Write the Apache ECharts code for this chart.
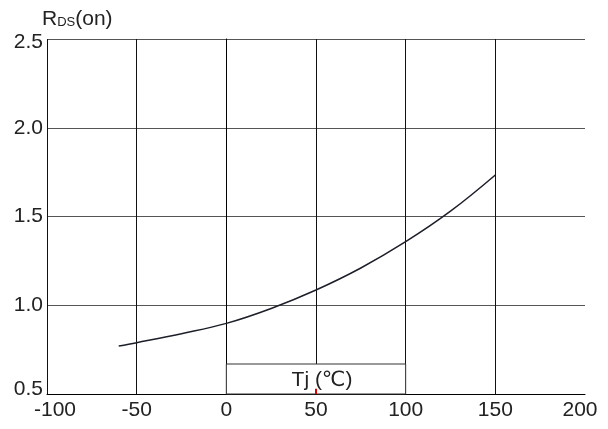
<!DOCTYPE html>
<html>
<head>
<meta charset="utf-8">
<script src="https://cdn.jsdelivr.net/npm/echarts@6/dist/echarts.min.js"></script>
<style>
html,body{margin:0;padding:0;background:#fff;}
#c{width:608px;height:429px;}
</style>
</head>
<body>
<div id="c"></div>
<script>
// Data
const tempC = [-60, -50, -25, 0, 25, 50, 75, 100, 125, 150];
const rdsOn = [0.77, 0.789, 0.84, 0.898, 0.982, 1.086, 1.21, 1.358, 1.53, 1.734];
const xTicks = [-100, -50, 0, 50, 100, 150, 200];
const yTicks = [0.5, 1.0, 1.5, 2.0, 2.5];
const axisLabelBox = { x0: 0, x1: 100, y0: 0.5, y1: 0.669, text: 'Tj (℃)' };
const redTick = { x: 50, y0: 0.5, y1: 0.53 };
const yName = { main: 'R', sub: 'DS', tail: '(on)' };

const font = '"Liberation Sans", Arial, "DejaVu Sans", sans-serif';
const chart = echarts.init(document.getElementById('c'), null, { renderer: 'canvas' });

chart.setOption({
  backgroundColor: '#fff',
  animation: false,
  grid: { left: 47, right: 23, top: 39, bottom: 35 },
  graphic: [{
    type: 'text',
    left: 42,
    top: 9,
    z: 10,
    style: {
      text: '{r|' + yName.main + '}{s|' + yName.sub + '}{r|' + yName.tail + '}',
      rich: {
        r: { fontSize: 21, fill: '#222', fontFamily: font },
        s: { fontSize: 13, fill: '#222', fontFamily: font, verticalAlign: 'bottom', padding: [0, 0, 1, 0] }
      }
    }
  }],
  xAxis: {
    type: 'value',
    min: xTicks[0],
    max: xTicks[xTicks.length - 1],
    interval: 50,
    axisLine: { show: true, lineStyle: { color: '#000', width: 1 } },
    axisTick: { show: false },
    axisLabel: {
      color: '#222', fontSize: 21, fontFamily: font, margin: 6,
      formatter: v => v === xTicks[0] ? '{mn|' + v + '}' : (v === xTicks[xTicks.length - 1] ? '{mx|' + v + '}' : String(v)),
      rich: {
        mn: { fontSize: 21, fontFamily: font, color: '#222', padding: [0, 0, 0, 16] },
        mx: { fontSize: 21, fontFamily: font, color: '#222', padding: [0, 10, 0, 0] }
      }
    },
    splitLine: { show: true, showMaxLine: false, lineStyle: { color: '#111', width: 1 } }
  },
  yAxis: {
    type: 'value',
    min: yTicks[0],
    max: yTicks[yTicks.length - 1],
    interval: 0.5,
    axisLine: { show: true, lineStyle: { color: '#000', width: 1 } },
    axisTick: { show: false },
    axisLabel: {
      color: '#222', fontSize: 21, fontFamily: font, margin: 4,
      formatter: v => v === yTicks[0] ? '{mn|' + v.toFixed(1) + '}' : (v === yTicks[yTicks.length - 1] ? '{mx|' + v.toFixed(1) + '}' : v.toFixed(1)),
      rich: {
        mn: { fontSize: 21, fontFamily: font, color: '#222', padding: [0, 0, 10, 0] },
        mx: { fontSize: 21, fontFamily: font, color: '#222', padding: [6, 0, 0, 0] }
      }
    },
    splitLine: { show: true, lineStyle: { color: '#555', width: 1 } }
  },
  series: [
    {
      type: 'line',
      data: tempC.map((t, i) => [t, rdsOn[i]]),
      smooth: 0.4,
      showSymbol: false,
      lineStyle: { color: '#1c1f2a', width: 1.5 },
      z: 5,
      markArea: {
        silent: true,
        itemStyle: { color: '#ffffff', opacity: 1, borderColor: '#333', borderWidth: 1 },
        label: {
          show: true,
          position: 'inside',
          offset: [6, 1],
          color: '#222',
          fontSize: 21,
          fontFamily: font
        },
        data: [[
          { name: axisLabelBox.text, coord: [axisLabelBox.x0, axisLabelBox.y1] },
          { coord: [axisLabelBox.x1, axisLabelBox.y0] }
        ]]
      }
    },
    {
      type: 'line',
      data: [],
      z: 6,
      markLine: {
        silent: true,
        symbol: ['none', 'none'],
        label: { show: false },
        lineStyle: { color: '#e00000', width: 2, type: 'solid' },
        data: [[
          { coord: [redTick.x, redTick.y0] },
          { coord: [redTick.x, redTick.y1] }
        ]]
      }
    }
  ]
});
</script>
</body>
</html>
